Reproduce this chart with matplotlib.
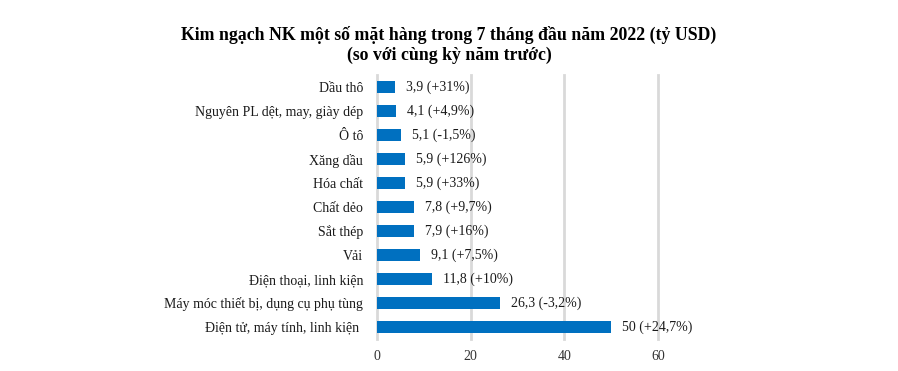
import matplotlib.pyplot as plt
import numpy as np

plt.rcParams['font.family'] = ['Liberation Serif', 'DejaVu Serif']

categories = ['Dầu thô', 'Nguyên PL dệt, may, giày dép', 'Ô tô', 'Xăng dầu', 'Hóa chất',
              'Chất dẻo', 'Sắt thép', 'Vải', 'Điện thoại, linh kiện',
              'Máy móc thiết bị, dụng cụ phụ tùng', 'Điện tử, máy tính, linh kiện ']
values = [3.9, 4.1, 5.1, 5.9, 5.9, 7.8, 7.9, 9.1, 11.8, 26.3, 50]
changes = ['+31%', '+4,9%', '-1,5%', '+126%', '+33%', '+9,7%', '+16%', '+7,5%',
           '+10%', '-3,2%', '+24,7%']
xticks = [0, 20, 40, 60]

fig = plt.figure(figsize=(8.98, 3.71), dpi=100)
ax = fig.add_axes([0.4198, 0.0863, 0.3129, 0.7115])

y = np.arange(len(categories))
ax.barh(y, values, height=0.5, color='#0070C0', zorder=3)

for yi, v, c in zip(y, values, changes):
    label = ('%g' % v).replace('.', ',') + ' (' + c + ')'
    ax.annotate(label, (v, yi), xytext=(8, 0), textcoords='offset points',
                va='center', ha='left', fontsize=10, color='#1a1a1a')

ax.set_yticks(y)
ax.set_yticklabels(categories, fontsize=10, color='#1a1a1a')
ax.set_ylim(len(categories) - 0.5, -0.5)
ax.set_xlim(0, 60)
ax.set_xticks(xticks)
ax.set_xticklabels([str(t) for t in xticks], fontsize=10, color='#333333')
ax.tick_params(length=0, pad=8)
ax.tick_params(axis='y', pad=10)
ax.xaxis.grid(True, color='#d9d9d9', linewidth=2, zorder=0)
for gl in ax.get_xgridlines():
    gl.set_clip_on(False)
for s in ax.spines.values():
    s.set_visible(False)

fig.text(0.5, 0.905, 'Kim ngạch NK một số mặt hàng trong 7 tháng đầu năm 2022 (tỷ USD)',
         ha='center', va='center', fontsize=12.8, fontweight='bold')
fig.text(0.5, 0.852, '(so với cùng kỳ năm trước)',
         ha='center', va='center', fontsize=12.8, fontweight='bold')

fig.savefig('out.png', dpi=100)
